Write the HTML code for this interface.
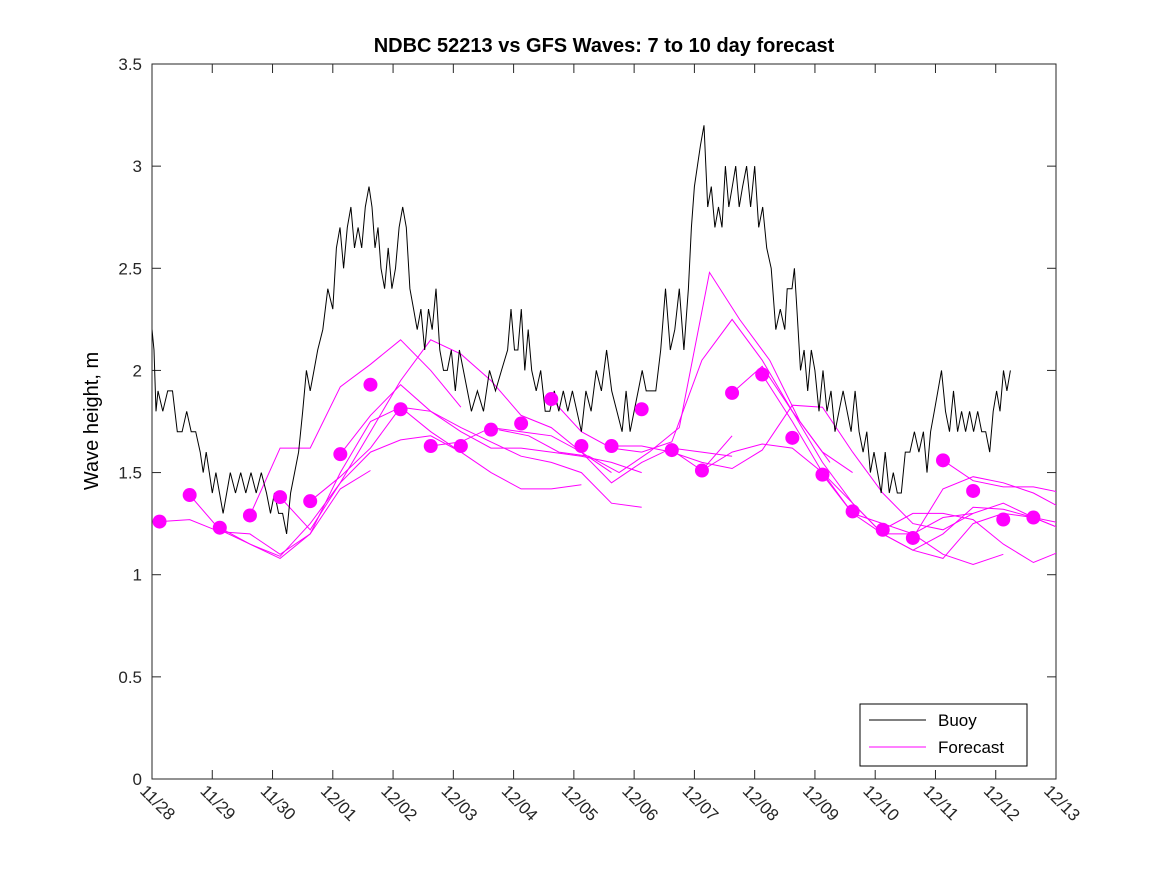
<!DOCTYPE html>
<html><head><meta charset="utf-8"><style>
body{margin:0;background:#fff;}
svg{font-family:"Liberation Sans",sans-serif;}
</style></head><body>
<svg id="chart" width="1167" height="875">
<rect width="1167" height="875" fill="#fff"/>
<text x="604" y="52" text-anchor="middle" font-size="20" font-weight="bold">NDBC 52213 vs GFS Waves: 7 to 10 day forecast</text>
<text transform="translate(98,421) rotate(-90)" text-anchor="middle" font-size="20">Wave height, m</text>
<g id="axes"></g>
<g id="plot"></g>
<g>
<rect x="860" y="704" width="167" height="62" fill="#fff" stroke="#000" stroke-width="1"/>
<line x1="869" y1="720" x2="926" y2="720" stroke="#000" stroke-width="1"/>
<text x="938" y="726" font-size="17">Buoy</text>
<line x1="869" y1="747" x2="926" y2="747" stroke="#ff00ff" stroke-width="1"/>
<text x="938" y="753" font-size="17">Forecast</text>
</g>
</svg>
<script>
const xTickLabels=["11/28","11/29","11/30","12/01","12/02","12/03","12/04","12/05","12/06","12/07","12/08","12/09","12/10","12/11","12/12","12/13"];
const yTicks=[0,0.5,1,1.5,2,2.5,3,3.5];
const dotStart=0.125, dotStep=0.5;
const dotValues=[1.26,1.39,1.23,1.29,1.38,1.36,1.59,1.93,1.81,1.63,1.63,1.71,1.74,1.86,1.63,1.63,1.81,1.61,1.51,1.89,1.98,1.67,1.49,1.31,1.22,1.18,1.56,1.41,1.27,1.28];
const buoyEnd=14.3;
const buoyChunkStarts=[0,0.1,0.5,0.8,1.0,1.3,1.9,2.3,2.5,2.75,3.0,3.3,3.6,3.8,4.1,4.4,4.9,5.3,5.9,6.3,6.6,7.2,7.8,8.2,8.6,8.9,9.1,9.4,9.8,10.2,10.5,10.7,11.0,11.4,11.8,12.1,12.5,12.8,13.1,13.5,13.9];
const buoyChunks=[[2.2,2.1,1.8],[1.9,1.8,1.9,1.9,1.7],[1.7,1.8,1.7,1.7],[1.6,1.5,1.6,1.5],[1.4,1.5,1.4,1.3,1.4],
[1.5,1.4,1.5,1.4,1.5,1.4,1.5],[1.4,1.3,1.4,1.3,1.3,1.2],[1.4,1.5,1.6],[1.8,2.0,1.9,2.0],[2.1,2.2,2.4],
[2.3,2.6,2.7,2.5,2.7],[2.8,2.6,2.7,2.6,2.8],[2.9,2.8,2.6,2.7],[2.5,2.4,2.6,2.4,2.5],[2.7,2.8,2.7,2.4,2.3],
[2.2,2.3,2.1,2.3,2.2,2.4,2.1,2.0],[2.0,2.1,1.9,2.1,2.0,1.9],[1.8,1.9,1.8,2.0,1.9,2.0],[2.1,2.3,2.1,2.1,2.3,2.0,2.2],
[2.0,1.9,2.0,1.8],[1.8,1.9,1.8,1.9,1.8,1.9,1.8,1.7],[1.9,1.8,2.0,1.9,2.1,1.9,1.8],[1.7,1.9,1.7,1.8,1.9,2.0],
[1.9,1.9,1.9,2.1,2.4],[2.1,2.2,2.4,2.1],[2.4,2.7,2.9,3.0],[3.1,3.2,2.8,2.9,2.7],[2.8,2.7,3.0,2.8,2.9,3.0,2.8],
[2.9,3.0,2.8,3.0,2.7,2.8],[2.6,2.5,2.2,2.3],[2.2,2.4,2.4,2.4,2.5],[2.3,2.0,2.1,1.9,2.1],[2.0,1.8,2.0,1.8,1.9,1.7],
[1.8,1.9,1.8,1.7,1.9,1.7],[1.6,1.7,1.5,1.6,1.5],[1.4,1.6,1.4,1.5,1.4,1.4],[1.6,1.6,1.7,1.6],[1.7,1.5,1.7,1.8,1.9],
[2.0,1.8,1.7,1.9,1.7,1.8],[1.7,1.8,1.7,1.8,1.7,1.7],[1.6,1.8,1.9,1.8,2.0,1.9,2.0]];
const fcStep=0.5;
const fcStarts=[0.125,0.625,1.125,1.625,2.125,2.625,3.125,4.625,5.75,6.625,7.625,8.625,9.125,9.625,10.125,11.125,12.125,12.625,13.125];
const fc1=[1.26,1.27,1.21,1.20,1.10,1.20,1.42,1.51];
const fc2=[1.39,1.22,1.15,1.09,1.25,1.45,1.60,1.66,1.68,1.60];
const fc3=[1.23,1.15,1.08,1.20,1.50,1.75,1.82,1.70,1.60,1.50,1.42,1.42,1.44];
const fc4=[1.29,1.62,1.62,1.92,2.03,2.15,2.00,1.82];
const fc5=[1.38,1.22,1.45,1.70,1.95,2.15,2.08,1.95,1.78,1.72,1.60,1.50];
const fc6=[1.36,1.48,1.62,1.82,1.80,1.72,1.65,1.58,1.55,1.50,1.35,1.33];
const fc7=[1.59,1.78,1.93,1.80,1.70,1.62,1.62,1.60,1.58,1.55,1.50];
const fc8=[1.63,1.65,1.72,1.70,1.68,1.60,1.45,1.55,1.62,1.60,1.58];
const fc9=[1.71,1.68,1.60,1.58,1.50,1.60,1.72,2.48,2.25,2.05,1.75,1.55];
const fc10=[1.86,1.70,1.62,1.60,1.65,2.05,2.25,2.05,1.80,1.60,1.50];
const fc11=[1.63,1.63,1.60,1.55,1.52,1.61,1.83,1.82,1.60,1.40,1.25,1.22,1.30];
const fc12=[1.61,1.51,1.68];
const fc13=[1.51,1.60,1.64,1.62,1.50,1.35,1.20,1.20,1.10,1.05,1.10];
const fc14=[1.89,2.02,1.80,1.55,1.35,1.20,1.12,1.20,1.33,1.32,1.28,1.22];
const fc15=[1.98,1.75,1.50,1.30,1.25,1.20,1.28,1.30,1.35,1.28,1.25,1.35];
const fc16=[1.49,1.30,1.20,1.12,1.08,1.25,1.30,1.28,1.22,1.18];
const fc17=[1.22,1.30,1.30,1.27,1.15,1.06,1.12,1.20];
const fc18=[1.18,1.42,1.48,1.45,1.40,1.32,1.28];
const fc19=[1.56,1.46,1.43,1.43,1.40,1.37];
const fcSeries=[fc1,fc2,fc3,fc4,fc5,fc6,fc7,fc8,fc9,fc10,fc11,fc12,fc13,fc14,fc15,fc16,fc17,fc18,fc19];

const X0=152,X1=1056,Y0=779,Y1=64;
const xs=t=>X0+t*(X1-X0)/15;
const ys=v=>Y0-v*(Y0-Y1)/3.5;
const NS="http://www.w3.org/2000/svg";
function mk(tag,attrs,parent){const e=document.createElementNS(NS,tag);for(const k in attrs)e.setAttribute(k,attrs[k]);parent.appendChild(e);return e;}
const axes=document.getElementById('axes'), plot=document.getElementById('plot');
const svg=document.getElementById('chart');
const cp=mk('clipPath',{id:'clip'},svg);mk('rect',{x:X0,y:Y1,width:X1-X0,height:Y0-Y1},cp);
plot.setAttribute('clip-path','url(#clip)');

const frame=mk('rect',{x:X0,y:Y1,width:X1-X0,height:Y0-Y1,fill:'none',stroke:'#262626','stroke-width':1},axes);


yTicks.forEach(v=>{
 const y=ys(v);
 mk('line',{x1:X0,y1:y,x2:X0+9,y2:y,stroke:'#262626'},axes);
 mk('line',{x1:X1,y1:y,x2:X1-9,y2:y,stroke:'#262626'},axes);
 const t=mk('text',{x:X0-10,y:y+6,'text-anchor':'end','font-size':17,fill:'#262626'},axes);
 t.textContent=String(v);
 
 
});
xTickLabels.forEach((lab,i)=>{
 const x=xs(i);
 mk('line',{x1:x,y1:Y0,x2:x,y2:Y0-9,stroke:'#262626'},axes);
 mk('line',{x1:x,y1:Y1,x2:x,y2:Y1+9,stroke:'#262626'},axes);
 const t=mk('text',{transform:`translate(${x-13},${Y0+13}) rotate(45)`,'font-size':17,fill:'#262626'},axes);
 t.textContent=lab;
 
 
});
fcSeries.forEach((arr,k)=>{
 const pts=arr.map((v,i)=>xs(fcStarts[k]+i*fcStep).toFixed(1)+','+ys(v).toFixed(1)).join(' ');
 const p=mk('polyline',{points:pts,fill:'none',stroke:'#ff00ff','stroke-width':1},plot);
 
 
});
let d='';
buoyChunks.forEach((chunk,c)=>{
 const t0=buoyChunkStarts[c];
 const t1=c+1<buoyChunkStarts.length?buoyChunkStarts[c+1]:buoyEnd;
 const st=(t1-t0)/chunk.length;
 chunk.forEach((v,i)=>{d+=(d?'L':'M')+xs(t0+i*st).toFixed(1)+','+ys(v).toFixed(1);});
});
const bl=mk('path',{d:d,fill:'none',stroke:'#000','stroke-width':1},plot);


dotValues.forEach((v,i)=>{
 const c=mk('circle',{cx:xs(dotStart+i*dotStep),cy:ys(v),r:7,fill:'#ff00ff'},plot);
 
 
});
</script>
</body></html>
